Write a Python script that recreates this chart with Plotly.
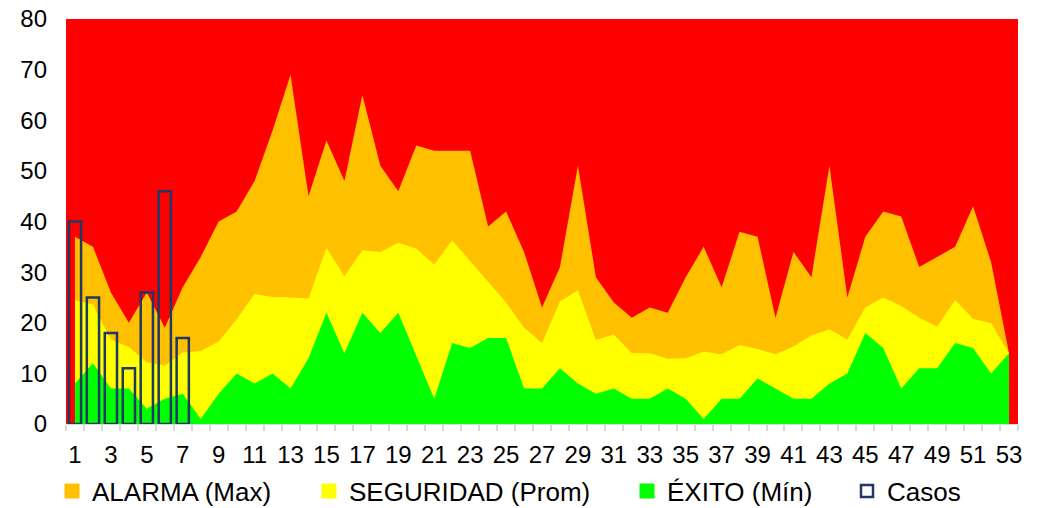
import plotly.graph_objects as go

weeks = list(range(1, 54))
alarma_max = [37, 35, 26, 20, 26, 19, 27, 33, 40, 42,
              48, 58, 69, 45, 56, 48, 65, 51, 46, 55,
              54, 54, 54, 39, 42, 34, 23, 31, 51, 29,
              24, 21, 23, 22, 29, 35, 27, 38, 37, 21,
              34, 29, 51, 25, 37, 42, 41, 31, 33, 35,
              43, 32, 14]
seguridad_prom = [24.5, 23.6, 16.7, 15.2, 12.2, 11.5, 14.1, 14.4, 16.3, 20.7,
                  25.7, 25.1, 25.0, 24.8, 34.8, 29.2, 34.3, 34.0, 35.8, 34.6,
                  31.5, 36.3, 32.2, 28.2, 24.0, 19.0, 16.0, 24.2, 26.4, 16.6,
                  17.7, 14.0, 14.0, 12.9, 13.0, 14.3, 13.8, 15.6, 14.8, 13.8,
                  15.3, 17.5, 18.7, 16.7, 23.0, 25.0, 23.3, 21.0, 19.2, 24.5,
                  20.8, 19.9, 14]
exito_min = [8, 12, 7, 7, 3, 5, 6, 1, 6, 10,
             8, 10, 7, 13, 22, 14, 22, 18, 22, 13.5,
             5, 16, 15, 17, 17, 7, 7, 11, 8, 6,
             7, 5, 5, 7, 5, 1, 5, 5, 9, 7,
             5, 5, 8, 10, 18, 15, 7, 11, 11, 16,
             15, 10, 14]
casos_weeks = [1, 2, 3, 4, 5, 6, 7]
casos = [40, 25, 18, 11, 26, 46, 17]

tick_weeks = list(range(1, 54, 2))
tick_labels = [str(w) for w in tick_weeks]
y_ticks = list(range(0, 81, 10))

RED = "#FF0000"
ORANGE = "#FFC000"
YELLOW = "#FFFF00"
GREEN = "#00FF00"
NAVY = "#1F3864"
FONT = "Liberation Sans, Arial, sans-serif"

fig = go.Figure()

for name, vals, col in [("ALARMA (Max)", alarma_max, ORANGE),
                        ("SEGURIDAD (Prom)", seguridad_prom, YELLOW),
                        ("ÉXITO (Mín)", exito_min, GREEN)]:
    fig.add_trace(go.Scatter(x=weeks, y=vals, mode="lines", fill="tozeroy",
                             fillcolor=col, line=dict(width=0, color=col),
                             showlegend=False, hoverinfo="x+y", name=name))

legend_ids = ["legend", "legend2", "legend3"]
for (name, col), lg in zip([("ALARMA (Max)", ORANGE),
                            ("SEGURIDAD (Prom)", YELLOW),
                            ("ÉXITO (Mín)", GREEN)], legend_ids):
    fig.add_trace(go.Scatter(x=[None], y=[None], mode="markers", name=name,
                             marker=dict(symbol="square", size=15, color=col),
                             legend=lg, showlegend=True))

fig.add_trace(go.Bar(x=casos_weeks, y=casos, name="Casos", width=0.68,
                     marker=dict(color="rgba(0,0,0,0)",
                                 line=dict(color=NAVY, width=2.5)),
                     xaxis="x2", yaxis="y2", legend="legend4"))

axis_font = dict(family=FONT, size=24, color="black")

fig.update_layout(
    width=1042, height=508,
    margin=dict(l=66, r=24, t=19, b=84, autoexpand=False),
    paper_bgcolor="white",
    plot_bgcolor=RED,
    font=dict(family=FONT, color="black"),
    xaxis=dict(range=[0.5, 53.5], tickmode="array", tickvals=tick_weeks,
               ticktext=tick_labels, ticks="", showgrid=False, zeroline=False,
               showline=True, linecolor="#D9D9D9", linewidth=1,
               tickfont=axis_font, ticklabelstandoff=9, automargin=False),
    yaxis=dict(range=[0, 80], tickmode="array", tickvals=y_ticks,
               showgrid=False, zeroline=False, showline=False, ticks="",
               tickfont=axis_font, ticklabelstandoff=18, automargin=False),
    xaxis2=dict(range=[0.5, 53.5], overlaying="x", anchor="y2", side="bottom",
                tickmode="array", tickvals=[w + 0.5 for w in range(0, 54)],
                showticklabels=False, ticks="outside", ticklen=6,
                tickcolor="#D9D9D9", tickwidth=2, showgrid=False,
                zeroline=False, showline=False, automargin=False),
    yaxis2=dict(range=[0, 80], overlaying="y", anchor="x2", showgrid=False,
                zeroline=False, showticklabels=False, ticks="",
                automargin=False),
    showlegend=True,
)

leg_font = dict(family=FONT, size=26, color="black")
text_starts = [93, 350, 668, 888]
for lg, ts in zip(["legend", "legend2", "legend3", "legend4"], text_starts):
    fig.update_layout({lg: dict(xref="container", yref="container",
                                x=(ts - 41) / 1042, y=17 / 508,
                                xanchor="left", yanchor="middle",
                                orientation="h", font=leg_font,
                                bgcolor="rgba(0,0,0,0)", borderwidth=0)})

fig.write_html("out.html", config={"displayModeBar": False})

# remove the browser's default body margin so the figure sits at the page origin
with open("out.html", "r", encoding="utf-8") as f:
    html = f.read()
html = html.replace("<body>", "<body style=\"margin:0;padding:0;\">", 1)
with open("out.html", "w", encoding="utf-8") as f:
    f.write(html)
